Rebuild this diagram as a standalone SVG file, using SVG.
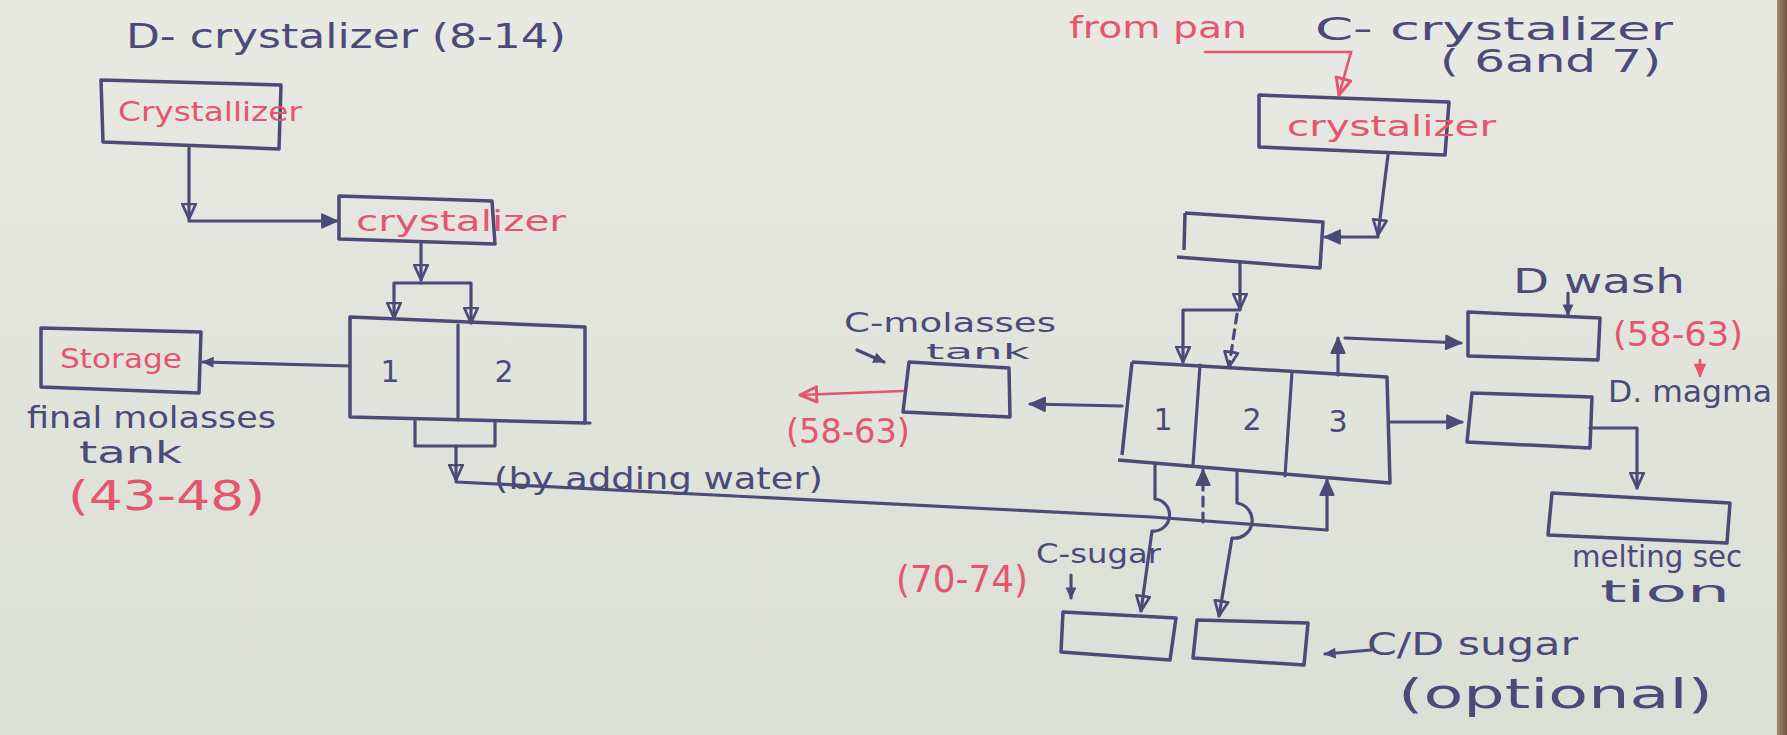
<svg xmlns="http://www.w3.org/2000/svg" width="1787" height="735" viewBox="0 0 1787 735">
  <defs>
    <linearGradient id="paper" x1="0" y1="0" x2="0" y2="1">
      <stop offset="0" stop-color="#e7e9e2"/>
      <stop offset="1" stop-color="#dcdfd6"/>
    </linearGradient>
    <linearGradient id="edge" x1="0" y1="0" x2="1" y2="0">
      <stop offset="0" stop-color="#a08a70"/>
      <stop offset="1" stop-color="#6e5440"/>
    </linearGradient>
    <marker id="ah" viewBox="0 0 12 12" refX="11" refY="6" markerWidth="18" markerHeight="18" orient="auto" markerUnits="userSpaceOnUse">
      <path d="M1,1.5 L11,6 L1,10.5 Z" fill="none" stroke="#4b4a78" stroke-width="1.8" stroke-linejoin="round"/>
    </marker>
    <marker id="ahf" viewBox="0 0 12 12" refX="11" refY="6" markerWidth="18" markerHeight="18" orient="auto" markerUnits="userSpaceOnUse">
      <path d="M1,1.5 L11,6 L1,10.5 Z" fill="#4b4a78" stroke="#4b4a78" stroke-width="1.2" stroke-linejoin="round"/>
    </marker>
    <marker id="ahs" viewBox="0 0 12 12" refX="11" refY="6" markerWidth="12" markerHeight="12" orient="auto" markerUnits="userSpaceOnUse">
      <path d="M1,1.5 L11,6 L1,10.5 Z" fill="#4b4a78" stroke="#4b4a78" stroke-width="1.2"/>
    </marker>
    <marker id="ahr" viewBox="0 0 12 12" refX="11" refY="6" markerWidth="20" markerHeight="20" orient="auto" markerUnits="userSpaceOnUse">
      <path d="M1,1.5 L11,6 L1,10.5 Z" fill="none" stroke="#e4566e" stroke-width="1.8" stroke-linejoin="round"/>
    </marker>
    <marker id="ahrs" viewBox="0 0 12 12" refX="11" refY="6" markerWidth="14" markerHeight="14" orient="auto" markerUnits="userSpaceOnUse">
      <path d="M1,1.5 L11,6 L1,10.5 Z" fill="#e4566e" stroke="#e4566e" stroke-width="1.2"/>
    </marker>
  </defs>
  <style>
    .box { fill: none; stroke: #4b4a78; stroke-width: 3.5; stroke-linejoin: round; }
    .ln { fill: none; stroke: #4b4a78; stroke-width: 3.2; stroke-linecap: round; stroke-linejoin: round; }
    .dash { stroke-dasharray: 9 7; }
    .rl { fill: none; stroke: #e4566e; stroke-width: 2.6; stroke-linecap: round; }
    .ink { font-family: "DejaVu Sans", "Liberation Sans", sans-serif; fill: #4b4a78; }
    .red { font-family: "DejaVu Sans", "Liberation Sans", sans-serif; fill: #e4566e; }
  </style>

  <!-- sheet of paper -->
  <rect x="0" y="0" width="1787" height="735" fill="url(#paper)"/>
  <rect x="1777" y="0" width="10" height="735" fill="url(#edge)"/>

  <!-- section headings -->
  <g id="title-d">
    <text class="ink" x="126" y="48" font-size="34" textLength="440" lengthAdjust="spacingAndGlyphs">D- crystalizer (8-14)</text>
  </g>
  <g id="title-c">
    <text class="red" x="1069" y="38" font-size="30" textLength="178" lengthAdjust="spacingAndGlyphs">from pan</text>
    <text class="ink" x="1315" y="40" font-size="32" textLength="358" lengthAdjust="spacingAndGlyphs">C- crystalizer</text>
    <text class="ink" x="1440" y="72" font-size="32" textLength="221" lengthAdjust="spacingAndGlyphs">( 6and 7)</text>
  </g>

  <!-- D crystalizer line -->
  <g id="d-crystallizer-1">
    <path class="box" d="M101,80 L281,85 L279,149 L103,142 Z"/>
    <text class="red" x="118" y="121" font-size="26" textLength="184" lengthAdjust="spacingAndGlyphs">Crystallizer</text>
  </g>
  <g id="d-crystallizer-2">
    <path class="box" d="M339,196 L492,201 L495,244 L339,239 Z"/>
    <text class="red" x="356" y="231" font-size="28" textLength="210" lengthAdjust="spacingAndGlyphs">crystalizer</text>
  </g>
  <g id="d-centrifugal">
    <path class="box" d="M350,317 L585,327 L585,423 L350,417 Z"/>
    <path class="ln" d="M458,325 L458,420 M585,423 L590,423"/>
    <text class="ink" x="390" y="382" font-size="30" text-anchor="middle">1</text>
    <text class="ink" x="504" y="382" font-size="30" text-anchor="middle">2</text>
  </g>
  <g id="storage">
    <path class="box" d="M41,328 L201,332 L199,393 L41,387 Z"/>
    <text class="red" x="60" y="368" font-size="26" textLength="122" lengthAdjust="spacingAndGlyphs">Storage</text>
    <text class="ink" x="27" y="428" font-size="30" textLength="249" lengthAdjust="spacingAndGlyphs">final molasses</text>
    <text class="ink" x="79" y="463" font-size="30" textLength="103" lengthAdjust="spacingAndGlyphs">tank</text>
    <text class="red" x="68" y="510" font-size="40" textLength="197" lengthAdjust="spacingAndGlyphs">(43-48)</text>
  </g>
  <g id="water-note">
    <text class="ink" x="494" y="489" font-size="30" textLength="329" lengthAdjust="spacingAndGlyphs">(by adding water)</text>
  </g>

  <!-- C crystalizer line -->
  <g id="c-crystallizer">
    <path class="box" d="M1259,95 L1449,102 L1445,155 L1259,147 Z"/>
    <text class="red" x="1287" y="136" font-size="28" textLength="209" lengthAdjust="spacingAndGlyphs">crystalizer</text>
  </g>
  <g id="c-receiver">
    <path class="box" d="M1185,213 L1323,222 L1320,268 L1177,257 M1185,213 L1184,250"/>
  </g>
  <g id="c-centrifugal">
    <path class="box" d="M1132,362 L1387,377 L1390,483 L1118,460 M1132,362 L1122,455"/>
    <path class="ln" d="M1200,365 L1193,465 M1292,372 L1285,476"/>
    <text class="ink" x="1163" y="430" font-size="30" text-anchor="middle">1</text>
    <text class="ink" x="1252" y="430" font-size="30" text-anchor="middle">2</text>
    <text class="ink" x="1338" y="432" font-size="30" text-anchor="middle">3</text>
  </g>
  <g id="c-molasses-tank">
    <path class="box" d="M909,362 L1009,368 L1010,417 L903,412 Z"/>
    <text class="ink" x="844" y="332" font-size="26" textLength="212" lengthAdjust="spacingAndGlyphs">C-molasses</text>
    <text class="ink" x="926" y="359" font-size="21" textLength="104" lengthAdjust="spacingAndGlyphs">tank</text>
    <text class="red" x="786" y="443" font-size="34" textLength="124" lengthAdjust="spacingAndGlyphs">(58-63)</text>
  </g>
  <g id="d-wash">
    <path class="box" d="M1468,312 L1600,318 L1598,360 L1468,356 Z"/>
    <text class="ink" x="1513" y="293" font-size="34" textLength="172" lengthAdjust="spacingAndGlyphs">D wash</text>
    <text class="red" x="1613" y="346" font-size="34" textLength="130" lengthAdjust="spacingAndGlyphs">(58-63)</text>
  </g>
  <g id="d-magma">
    <path class="box" d="M1472,393 L1592,397 L1590,448 L1467,442 Z"/>
    <text class="ink" x="1608" y="402" font-size="30" textLength="164" lengthAdjust="spacingAndGlyphs">D. magma</text>
  </g>
  <g id="melting-section">
    <path class="box" d="M1552,493 L1730,503 L1727,543 L1548,535 Z"/>
    <text class="ink" x="1572" y="567" font-size="30" textLength="170" lengthAdjust="spacingAndGlyphs">melting sec</text>
    <text class="ink" x="1600" y="602" font-size="30" textLength="130" lengthAdjust="spacingAndGlyphs">tion</text>
  </g>
  <g id="c-sugar">
    <path class="box" d="M1063,612 L1176,618 L1170,660 L1061,652 Z"/>
    <text class="ink" x="1036" y="563" font-size="26" textLength="125" lengthAdjust="spacingAndGlyphs">C-sugar</text>
    <text class="red" x="896" y="592" font-size="38" textLength="132" lengthAdjust="spacingAndGlyphs">(70-74)</text>
  </g>
  <g id="cd-sugar">
    <path class="box" d="M1197,620 L1308,623 L1304,665 L1193,658 Z"/>
    <text class="ink" x="1367" y="655" font-size="32" textLength="211" lengthAdjust="spacingAndGlyphs">C/D sugar</text>
    <text class="ink" x="1398" y="708" font-size="40" textLength="315" lengthAdjust="spacingAndGlyphs">(optional)</text>
  </g>

  <!-- flow lines -->
  <g id="connectors">
    <!-- D side -->
    <path class="ln" d="M189,148 V219" marker-end="url(#ah)"/>
    <path class="ln" d="M189,221 H337" marker-end="url(#ahf)"/>
    <path class="ln" d="M421,242 V280" marker-end="url(#ah)"/>
    <path class="ln" d="M421,283 H394 V318" marker-end="url(#ah)"/>
    <path class="ln" d="M421,283 H471 V323" marker-end="url(#ah)"/>
    <path class="ln" d="M350,366 L203,362" marker-end="url(#ahs)"/>
    <path class="ln" d="M415,421 V446 H495 V423"/>
    <path class="ln" d="M456,446 V480" marker-end="url(#ah)"/>
    <!-- water line to C centrifugal -->
    <path class="ln" d="M456,482 L1152,517 L1327,530"/>
    <path class="ln" d="M1327,530 V480" marker-end="url(#ahf)"/>
    <path class="ln dash" d="M1203,522 V470" marker-end="url(#ahf)"/>

    <!-- C side -->
    <path class="rl" d="M1205,52 H1351 L1339,95" marker-end="url(#ahr)"/>
    <path class="ln" d="M1388,155 L1378,235" marker-end="url(#ah)"/>
    <path class="ln" d="M1378,237 H1325" marker-end="url(#ahf)"/>
    <path class="ln" d="M1240,263 V309" marker-end="url(#ah)"/>
    <path class="ln" d="M1240,310 H1183 V362" marker-end="url(#ah)"/>
    <path class="ln dash" d="M1237,314 L1229,367" marker-end="url(#ah)"/>
    <path class="ln" d="M1338,375 V338" marker-end="url(#ahf)"/>
    <path class="ln" d="M1345,338 L1461,343" marker-end="url(#ahf)"/>
    <path class="ln" d="M1122,406 L1030,404" marker-end="url(#ahf)"/>
    <path class="rl" d="M903,391 L800,395" marker-end="url(#ahr)"/>
    <path class="ln" d="M1390,422 H1462" marker-end="url(#ahf)"/>
    <path class="ln" d="M1590,428 H1637 V488" marker-end="url(#ah)"/>
    <!-- sugar discharges hopping over the water line -->
    <path class="ln" d="M1155,463 V499 A16,16 0 0 1 1152,531 L1141,611" marker-end="url(#ah)"/>
    <path class="ln" d="M1237,472 V503 A17,17 0 0 1 1232,538 L1219,616" marker-end="url(#ah)"/>
    <!-- label pointers -->
    <path class="ln" d="M857,350 L884,362" marker-end="url(#ahs)"/>
    <path class="ln" d="M1071,575 V598" marker-end="url(#ahs)"/>
    <path class="ln" d="M1568,293 V315" marker-end="url(#ahs)"/>
    <path class="rl" d="M1700,360 V376" marker-end="url(#ahrs)"/>
    <path class="ln" d="M1371,650 L1325,654" marker-end="url(#ahs)"/>
  </g>
</svg>
